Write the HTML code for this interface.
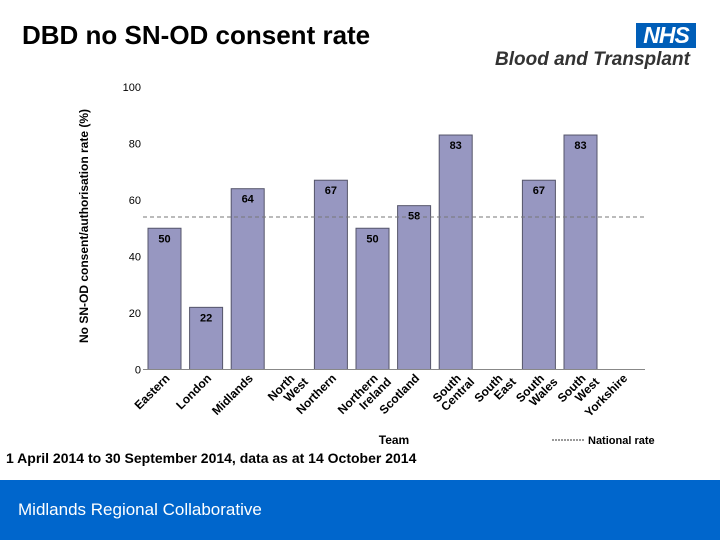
<!DOCTYPE html>
<html><head><meta charset="utf-8"><style>
html,body{margin:0;padding:0;background:#fff;}
body{width:720px;height:540px;position:relative;overflow:hidden;font-family:"Liberation Sans",Arial,sans-serif;}
</style></head><body>
<div style="position:absolute;left:22px;top:20px;font-size:26px;font-weight:bold;color:#000;">DBD no SN-OD consent rate</div>
<div style="position:absolute;left:636px;top:23px;width:60px;height:25px;background:#005EB8;color:#fff;font-weight:bold;font-style:italic;font-size:23px;line-height:25px;text-align:center;letter-spacing:-1px;">NHS</div>
<div style="position:absolute;left:495px;top:49px;font-size:19px;font-weight:bold;font-style:italic;color:#333;white-space:nowrap;">Blood and Transplant</div>
<svg id="chart" width="720" height="480" style="position:absolute;left:0;top:0;font-family:'Liberation Sans',Arial,sans-serif;"></svg>
<div style="position:absolute;left:6px;top:450px;font-size:14px;font-weight:bold;color:#000;">1 April 2014 to 30 September 2014, data as at 14 October 2014</div>
<div style="position:absolute;left:0;top:480px;width:720px;height:60px;background:#0066CC;">
<div style="position:absolute;left:18px;top:20px;font-size:17px;color:#fff;">Midlands Regional Collaborative</div>
</div>
<script>
const categories=[["Eastern"],["London"],["Midlands"],["North","West"],["Northern"],["Northern","Ireland"],["Scotland"],["South","Central"],["South","East"],["South","Wales"],["South","West"],["Yorkshire"]];
const values=[50,22,64,null,67,50,58,83,null,67,83,null];
const yTicks=[0,20,40,60,80,100];
const nationalRate=54;
const NS="http://www.w3.org/2000/svg";
const svg=document.getElementById('chart');
const x0=143,x1=645,y0=369.5,yTop=87;
const step=41.6;
const bw=33;
function y(v){return y0-(v/100)*(y0-yTop);}
function xc(i){return 164.5+step*i;}
function mk(tag,attrs,txt){const e=document.createElementNS(NS,tag);for(const k in attrs)e.setAttribute(k,attrs[k]);if(txt!=null)e.textContent=txt;svg.appendChild(e);return e;}
yTicks.forEach(t=>{
  const e=mk('text',{x:141,y:y(t)+4,'text-anchor':'end','font-size':11,fill:'#000'},t);
  
  
});
const yt=mk('text',{transform:'translate(88,226) rotate(-90)','text-anchor':'middle','font-size':12,'font-weight':'bold',fill:'#000'},'No SN-OD consent/authorisation rate (%)');


values.forEach((v,i)=>{
  if(v==null)return;
  const r=mk('rect',{x:xc(i)-bw/2,y:y(v),width:bw,height:y0-y(v),fill:'#9797C1',stroke:'#55556a','stroke-width':1});
  
  
  const l=mk('text',{x:xc(i),y:y(v)+14,'text-anchor':'middle','font-size':11,'font-weight':'bold',fill:'#000'},v);
  
  
});
const nl=mk('line',{x1:x0,x2:x1,y1:y(nationalRate),y2:y(nationalRate),stroke:'#777','stroke-dasharray':'4,3','stroke-width':1});


const ax=mk('line',{x1:x0,x2:x1,y1:y0,y2:y0,stroke:'#888','stroke-width':1});


categories.forEach((c,i)=>{
  const g=document.createElementNS(NS,'g');
  g.setAttribute('transform','translate('+(xc(i)+6)+',379) rotate(-45)');
  
  
  c.forEach((line,j)=>{
    const t=document.createElementNS(NS,'text');
    t.setAttribute('x',j*7);t.setAttribute('y',j*12);
    t.setAttribute('text-anchor','end');t.setAttribute('font-size',12);t.setAttribute('font-weight','bold');
    t.textContent=line;g.appendChild(t);
  });
  svg.appendChild(g);
});
const xt=mk('text',{x:394,y:444,'text-anchor':'middle','font-size':12,'font-weight':'bold',fill:'#000'},'Team');


const ll=mk('line',{x1:552,x2:584,y1:440,y2:440,stroke:'#333','stroke-dasharray':'2,1'});


const lt=mk('text',{x:588,y:444,'font-size':11,'font-weight':'bold',fill:'#000'},'National rate');


</script>
</body></html>
